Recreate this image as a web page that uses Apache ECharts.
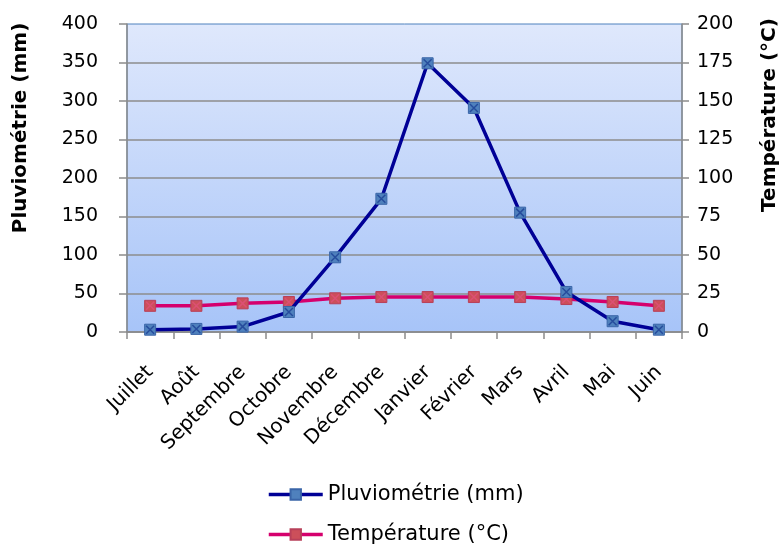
<!DOCTYPE html>
<html><head><meta charset="utf-8">
<script src="https://cdn.jsdelivr.net/npm/echarts@6/dist/echarts.min.js"></script>
<style>html,body{margin:0;padding:0;background:#fff}#c{width:784px;height:546px}</style>
</head><body><div id="c"></div>
<script>
const categories = ['Juillet','Août','Septembre','Octobre','Novembre','Décembre','Janvier','Février','Mars','Avril','Mai','Juin'];
const pluvio = [3, 4, 7, 26, 97, 173, 349, 291, 155, 52, 14, 3];
const temperature = [17, 17, 18.6, 19.5, 21.9, 22.7, 22.7, 22.7, 22.7, 21.4, 19.5, 17];
const leftTicks = [0, 400, 50];
const rightTicks = [0, 200, 25];
const leftTitle = 'Pluviométrie (mm)';
const rightTitle = 'Température (°C)';

const font = '"DejaVu Sans", sans-serif';
const xMark = 'path://M0,0L10,10M10,0L0,10';
const chart = echarts.init(document.getElementById('c'));
chart.setOption({
  animation: false,
  textStyle: { fontFamily: font },
  grid: {
    left: 127, right: 102, top: 24, bottom: 214,
    show: true, borderColor: '#4f81bd', borderWidth: 1,
    backgroundColor: new echarts.graphic.LinearGradient(0, 0, 0, 1, [
      { offset: 0, color: '#dfe8fc' },
      { offset: 1, color: '#a7c4f8' }
    ])
  },
  graphic: [
    { type: 'text', x: 21, y: 128, rotation: Math.PI / 2,
      style: { text: leftTitle, font: 'bold 20px "DejaVu Sans", sans-serif', fill: '#000', align: 'center', verticalAlign: 'middle' } },
    { type: 'text', x: 770, y: 115, rotation: Math.PI / 2,
      style: { text: rightTitle, font: 'bold 20px "DejaVu Sans", sans-serif', fill: '#000', align: 'center', verticalAlign: 'middle' } }
  ],
  legend: {
    orient: 'vertical', left: 262, top: 479, height: 80, itemGap: 19,
    itemWidth: 54, itemHeight: 13,
    lineStyle: { width: 3.5 },
    textStyle: { fontSize: 21, color: '#000', fontFamily: font },
    data: [leftTitle, rightTitle]
  },
  xAxis: {
    type: 'category', data: categories, boundaryGap: true,
    axisLine: { lineStyle: { color: '#8c8c8c', width: 1.5 } },
    axisTick: { show: true, length: 7, lineStyle: { color: '#8c8c8c', width: 1.5 } },
    axisLabel: { rotate: 45, fontSize: 20, color: '#000', margin: 37, fontFamily: font, interval: 0 }
  },
  yAxis: [{
    type: 'value', min: leftTicks[0], max: leftTicks[1], interval: leftTicks[2],
    axisLine: { show: true, lineStyle: { color: '#8c8c8c', width: 1.5 } },
    axisTick: { show: true, length: 8, lineStyle: { color: '#8c8c8c', width: 1.5 } },
    axisLabel: { fontSize: 19, color: '#000', margin: 29, fontFamily: font },
    splitLine: { show: true, showMaxLine: false, lineStyle: { color: '#8c8c8c', width: 1.5 } }
  }, {
    type: 'value', position: 'right', min: rightTicks[0], max: rightTicks[1], interval: rightTicks[2],
    axisLine: { show: true, lineStyle: { color: '#8c8c8c', width: 1.5 } },
    axisTick: { show: true, length: 7, lineStyle: { color: '#8c8c8c', width: 1.5 } },
    axisLabel: { fontSize: 19, color: '#000', margin: 15, fontFamily: font },
    splitLine: { show: false }
  }],
  series: [{
    name: leftTitle, type: 'line', yAxisIndex: 0, data: pluvio,
    symbol: 'rect', symbolSize: 11,
    lineStyle: { color: '#000096', width: 3.5 },
    itemStyle: { color: '#4f81bd', borderColor: '#3a65a8', borderWidth: 1 },
    z: 4
  }, {
    name: rightTitle, type: 'line', yAxisIndex: 1, data: temperature,
    symbol: 'rect', symbolSize: 11,
    lineStyle: { color: '#d5006d', width: 3.5 },
    itemStyle: { color: '#cc4f5a', borderColor: '#b8405a', borderWidth: 1 },
    z: 2
  }, {
    name: 'pluvio-x', type: 'scatter', yAxisIndex: 0, data: pluvio, silent: true,
    symbol: xMark, symbolSize: 8,
    itemStyle: { color: 'rgba(0,0,0,0)', borderColor: '#1c3f94', borderWidth: 1.5 },
    z: 5
  }, {
    name: 'temp-x', type: 'scatter', yAxisIndex: 1, data: temperature, silent: true,
    symbol: xMark, symbolSize: 8,
    itemStyle: { color: 'rgba(0,0,0,0)', borderColor: '#e0507a', borderWidth: 1.5 },
    z: 3
  }]
});
</script></body></html>
